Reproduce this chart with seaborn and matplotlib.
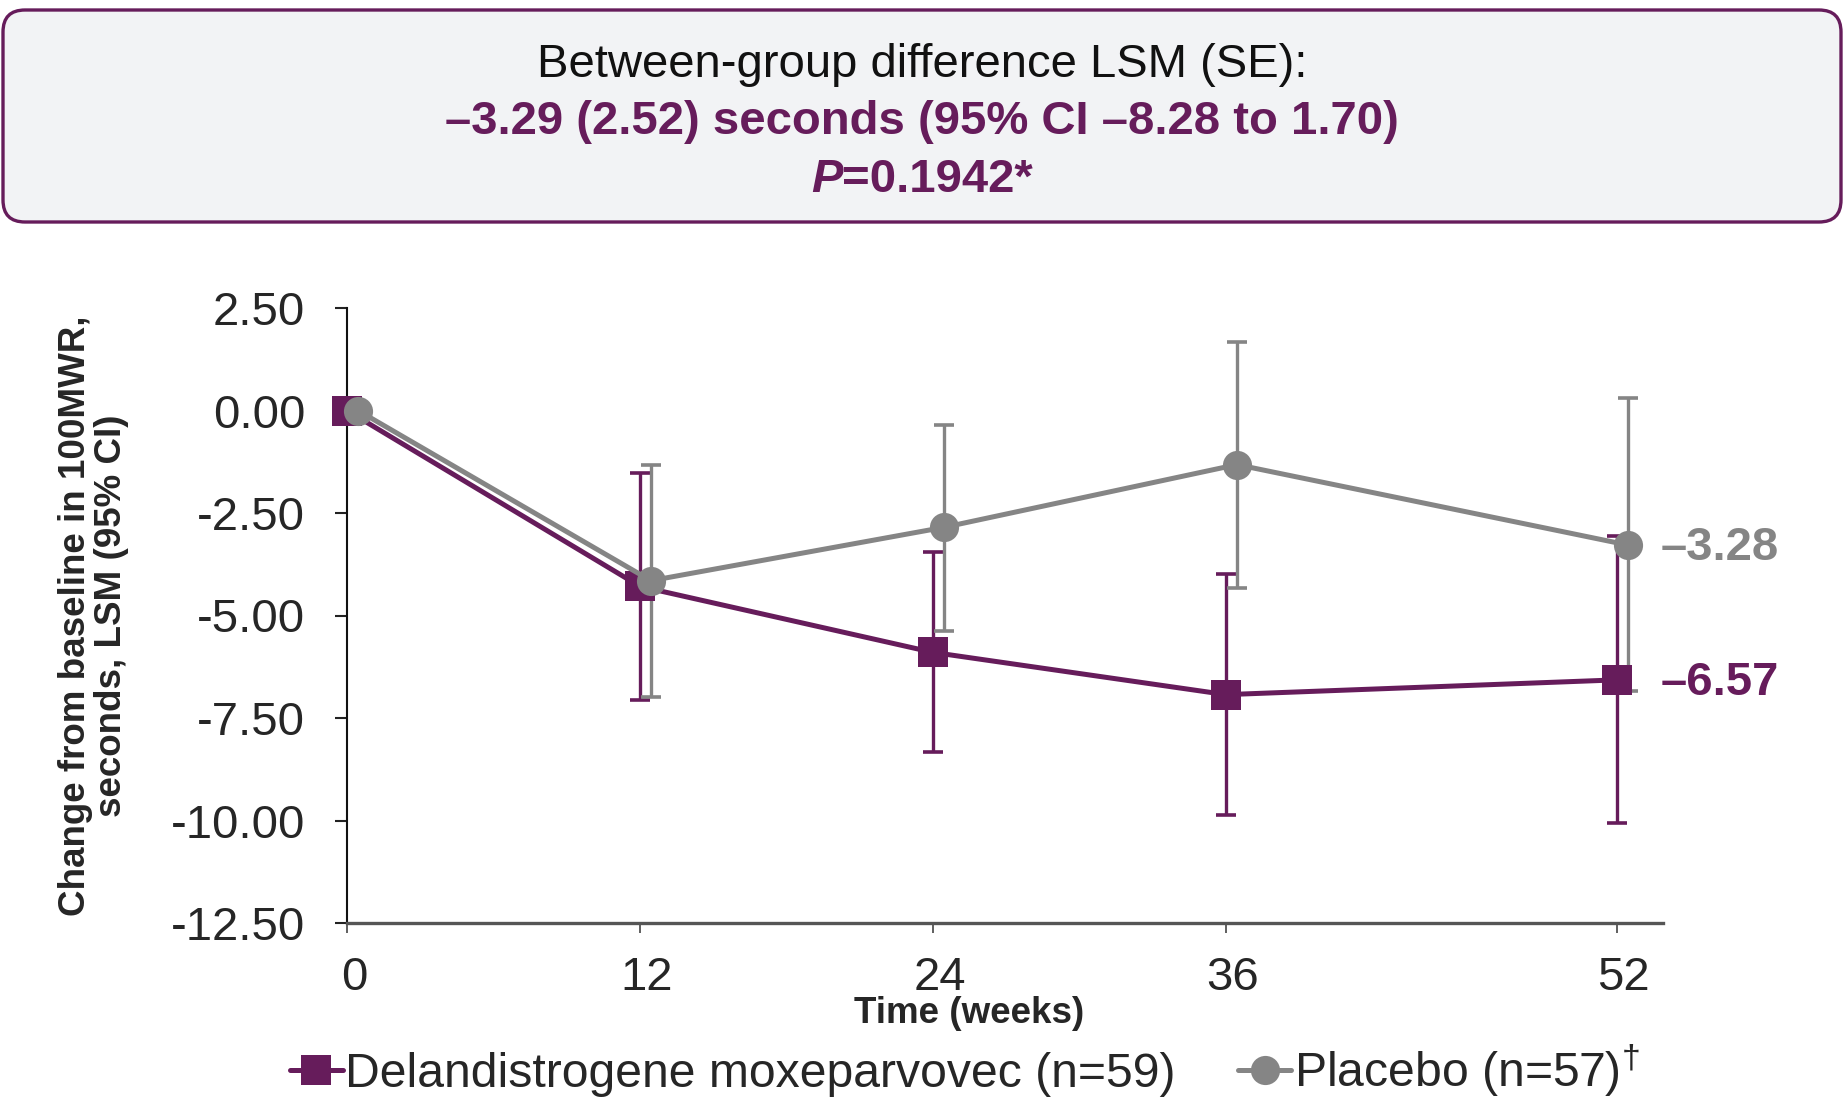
import matplotlib
matplotlib.use("Agg")
import matplotlib.pyplot as plt
from matplotlib.patches import FancyBboxPatch
from matplotlib.lines import Line2D
from matplotlib.transforms import IdentityTransform, ScaledTranslation
import seaborn as sns
import pandas as pd
import numpy as np

# data
weeks = [0, 12, 24, 36, 52]
delandi_mean = [0.0, -4.29, -5.90, -6.93, -6.57]
delandi_lo = [0.0, -7.07, -8.34, -9.86, -10.06]
delandi_hi = [0.0, -1.53, -3.46, -3.98, -3.07]
placebo_mean = [0.0, -4.15, -2.85, -1.32, -3.28]
placebo_lo = [0.0, -6.99, -5.39, -4.33, -6.85]
placebo_hi = [0.0, -1.32, -0.35, 1.68, 0.30]

groups = ["Delandistrogene moxeparvovec (n=59)", "Placebo (n=57)"]
legend_labels = ["Delandistrogene moxeparvovec (n=59)", r"Placebo (n=57)$^{\dagger}$"]
end_labels = ["\u20136.57", "\u20133.28"]
ytick_vals = [2.5, 0.0, -2.5, -5.0, -7.5, -10.0, -12.5]

box_line1 = "Between-group difference LSM (SE):"
box_line2 = "\u20133.29 (2.52) seconds (95% CI \u20138.28 to 1.70)"
box_line3_p = "P"
box_line3_rest = "=0.1942*"

PURPLE = "#661c5b"
GREY = "#858585"
colors = {groups[0]: PURPLE, groups[1]: GREY}
markers = {groups[0]: "s", groups[1]: "o"}
dodge = {groups[0]: 0.0, groups[1]: 0.45}

sns.set_style("ticks")
plt.rcParams["font.family"] = ["Liberation Sans", "DejaVu Sans"]
plt.rcParams["mathtext.fontset"] = "custom"
plt.rcParams["mathtext.rm"] = "Liberation Sans"
plt.rcParams["axes.unicode_minus"] = False

df = pd.concat([
    pd.DataFrame({"week": weeks, "mean": delandi_mean, "lo": delandi_lo,
                  "hi": delandi_hi, "group": groups[0]}),
    pd.DataFrame({"week": weeks, "mean": placebo_mean, "lo": placebo_lo,
                  "hi": placebo_hi, "group": groups[1]}),
], ignore_index=True)
df["xpos"] = df["week"] + df["group"].map(dodge)

fig = plt.figure(figsize=(18.44, 11), dpi=100)
ax = fig.add_axes([347 / 1844, 1 - 923 / 1100, (1663 - 347) / 1844, (923 - 308) / 1100])

sns.lineplot(data=df, x="xpos", y="mean", hue="group", style="group",
             palette=colors, markers=markers, dashes=False, errorbar=None,
             linewidth=3.6, markersize=21, markeredgewidth=0, legend=False,
             ax=ax, clip_on=False, zorder=3)

for g in groups:
    sub = df[(df["group"] == g) & (df["hi"] != df["lo"])]
    ax.errorbar(sub["xpos"], sub["mean"],
                yerr=[sub["mean"] - sub["lo"], sub["hi"] - sub["mean"]],
                fmt="none", ecolor=colors[g], elinewidth=2.4, capsize=7,
                capthick=2.6, zorder=2)

# end-point labels
for g, lab, xoff in zip(groups, end_labels, [32, 24]):
    last = df[df["group"] == g].iloc[-1]
    ax.annotate(lab, xy=(last["xpos"], last["mean"]), xytext=(xoff, -2),
                textcoords="offset points", ha="left", va="center",
                fontsize=34, fontweight="bold", color=colors[g])

ax.set_xlim(0, 53.9)
ax.set_ylim(-12.5, 2.5)
ax.set_xticks(weeks)
ax.set_xticklabels([str(w) for w in weeks])
ax.set_yticks(ytick_vals)
ax.set_yticklabels(["%.2f" % v for v in ytick_vals])
ax.tick_params(axis="y", labelsize=34, length=9, width=1.5, pad=21, color="#222222")
ax.tick_params(axis="x", labelsize=34, length=7, width=1.2, pad=17, color="#444444")
for lab in ax.get_xticklabels():
    lab.set_transform(lab.get_transform() + ScaledTranslation(5 / 72, 0, fig.dpi_scale_trans))
sns.despine(ax=ax)
ax.spines["left"].set_linewidth(1.5)
ax.spines["left"].set_color("#111111")
ax.spines["bottom"].set_linewidth(2.4)
ax.spines["bottom"].set_color("#555555")

ax.set_xlabel("Time (weeks)", fontsize=26.5, fontweight="bold", labelpad=-3, x=0.473)
ax.set_ylabel("Change from baseline in 100MWR,\nseconds, LSM (95% CI)",
              fontsize=26.5, fontweight="bold", labelpad=30, linespacing=1.05)

handles = [Line2D([], [], color=colors[g], marker=markers[g], markersize=21,
                  markeredgewidth=0, linewidth=3.6) for g in groups]
fig.legend(handles, legend_labels, loc="center", bbox_to_anchor=(0.523, 0.027),
           ncol=2, frameon=False, fontsize=34.7, handlelength=1.1,
           handletextpad=0.05, columnspacing=1.3)

# header box
box = FancyBboxPatch((3, 1100 - 222), 1838, 212,
                     boxstyle="round,pad=0,rounding_size=22",
                     transform=IdentityTransform(), facecolor="#f2f3f5",
                     edgecolor=PURPLE, linewidth=2.4, zorder=0)
fig.add_artist(box)
fig.text(0.5, 1 - 65 / 1100, box_line1, ha="center", va="center",
         fontsize=34, color="#111111")
fig.text(0.5, 1 - 122 / 1100, box_line2, ha="center", va="center",
         fontsize=34, fontweight="bold", color=PURPLE)

# third line: italic P followed by the rest, centred together
t_p = fig.text(0, 1 - 180 / 1100, box_line3_p, ha="left", va="center",
               fontsize=34, fontweight="bold", fontstyle="italic", color=PURPLE)
t_r = fig.text(0, 1 - 180 / 1100, box_line3_rest, ha="left", va="center",
               fontsize=34, fontweight="bold", color=PURPLE)
fig.canvas.draw()
r = fig.canvas.get_renderer()
wp = t_p.get_window_extent(r).width
wr = t_r.get_window_extent(r).width
x0 = (1844 / 2 - (wp + wr) / 2) / 1844
t_p.set_x(x0)
t_r.set_x(x0 + wp / 1844)

fig.savefig("out.png", dpi=100)
